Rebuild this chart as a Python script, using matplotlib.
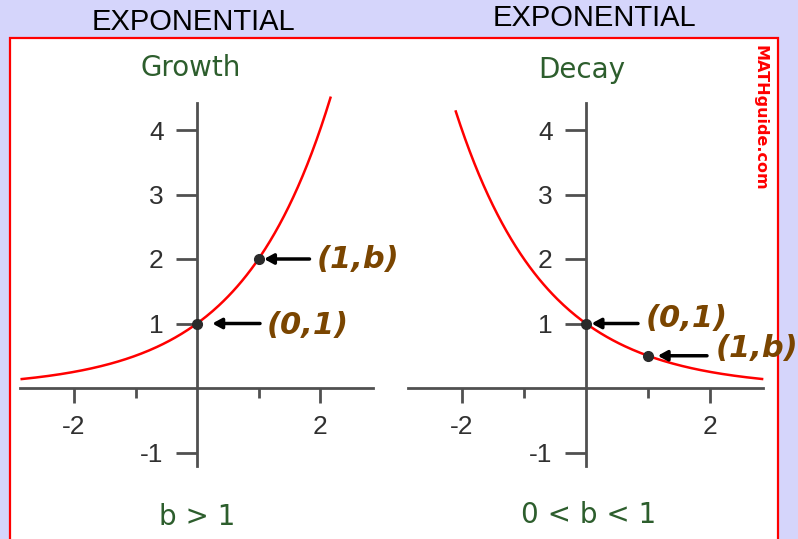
import numpy as np
import matplotlib.pyplot as plt
from matplotlib.patches import Rectangle

# values
bases = [2.0, 0.5]                       # b for growth / decay
curve_x = [(-2.85, 2.17), (-2.1, 2.84)]  # visible part of each curve
x_major = [-2, 2]
x_minor = [-1, 1]
y_ticks = [-1, 1, 2, 3, 4]
titles = ["Growth", "Decay"]
conditions = ["b > 1", "0 < b < 1"]

W, H = 798, 539
fig = plt.figure(figsize=(W / 100, H / 100), dpi=100, facecolor="#d5d5fb")

# background layer in pixel coordinates
bg = fig.add_axes([0, 0, 1, 1])
bg.set_xlim(0, W)
bg.set_ylim(H, 0)
bg.axis("off")
bg.add_patch(Rectangle((10, 38), 768, 520, facecolor="white", edgecolor="red", lw=1.6))

green = "#2d5e2d"
brown = "#7a4500"
bg.text(193, 22, "EXPONENTIAL", fontsize=21, family="Liberation Sans", ha="center", va="center")
bg.text(594, 18, "EXPONENTIAL", fontsize=21, family="Liberation Sans", ha="center", va="center")
bg.text(191, 68, titles[0], fontsize=20, color=green, ha="center", va="center")
bg.text(582, 70, titles[1], fontsize=20, color=green, ha="center", va="center")
bg.text(197, 517, conditions[0], fontsize=20, color=green, ha="center", va="center")
bg.text(589, 515, conditions[1], fontsize=20, color=green, ha="center", va="center")
bg.text(760, 118, "MATHguide.com", fontsize=11.5, color="red", weight="bold",
        rotation=-90, ha="center", va="center")

xlim = (-2.87, 2.86)
ylim = (-1.21, 4.42)


def make_axes(ox, oy, ux, uy):
    # place an axes so that data (0,0) lands at pixel (ox, oy)
    left = (ox + xlim[0] * ux) / W
    bottom = (H - (oy - ylim[0] * uy)) / H
    ax = fig.add_axes([left, bottom, (xlim[1] - xlim[0]) * ux / W,
                       (ylim[1] - ylim[0]) * uy / H])
    ax.set_xlim(*xlim)
    ax.set_ylim(*ylim)
    ax.patch.set_visible(False)
    for s in ["top", "right"]:
        ax.spines[s].set_visible(False)
    for s in ["left", "bottom"]:
        ax.spines[s].set_position(("data", 0))
        ax.spines[s].set_color("#505050")
        ax.spines[s].set_linewidth(2)
    ax.set_xticks(x_major)
    ax.set_xticks(x_minor, minor=True)
    ax.set_xticklabels([str(v) for v in x_major])
    ax.set_yticks(y_ticks)
    ax.set_yticklabels([str(v) for v in y_ticks])
    ax.tick_params(axis="x", which="major", direction="out", length=11, width=2,
                   color="#505050", pad=8.5)
    ax.tick_params(axis="x", which="minor", direction="out", length=7, width=2,
                   color="#505050")
    ax.tick_params(axis="y", direction="out", length=15, width=2, color="#505050",
                   pad=9)
    ax.tick_params(axis="both", which="major", labelsize=19, labelcolor="#303030",
                   labelfontfamily="Liberation Sans")
    return ax


def mark(ax, x, y, tail, gap, lab_dx, lab_dy):
    ax.plot([x], [y], "o", color="#2a2a2a", ms=7, zorder=5, clip_on=False)
    ax.annotate("", xy=(x, y), xytext=(tail, 0), textcoords="offset pixels",
                xycoords="data",
                arrowprops=dict(arrowstyle="-|>,head_length=0.55,head_width=0.3",
                                lw=2.5, color="black", shrinkA=0, shrinkB=gap))
    label = "(1,b)" if y != 1 else "(0,1)"
    ax.annotate(label, xy=(x, y), xytext=(lab_dx, lab_dy), textcoords="offset pixels",
                ha="left", va="center", fontsize=22, color=brown,
                weight="bold", style="italic", annotation_clip=False)


axes = [make_axes(197, 388, 61.5, 64.5), make_axes(586, 388, 62, 64.5)]

for ax, b, (x0, x1) in zip(axes, bases, curve_x):
    xs = np.linspace(x0, x1, 200)
    ax.plot(xs, b ** xs, color="red", lw=1.8, clip_on=False)

mark(axes[0], 1, bases[0], 51, 4, 58, 0)
mark(axes[0], 0, 1, 63, 11, 70, -2)
mark(axes[1], 0, 1, 52, 4, 60, 5)
mark(axes[1], 1, bases[1], 59, 7, 68, 7)

fig.savefig("out.png", dpi=100, facecolor=fig.get_facecolor())
